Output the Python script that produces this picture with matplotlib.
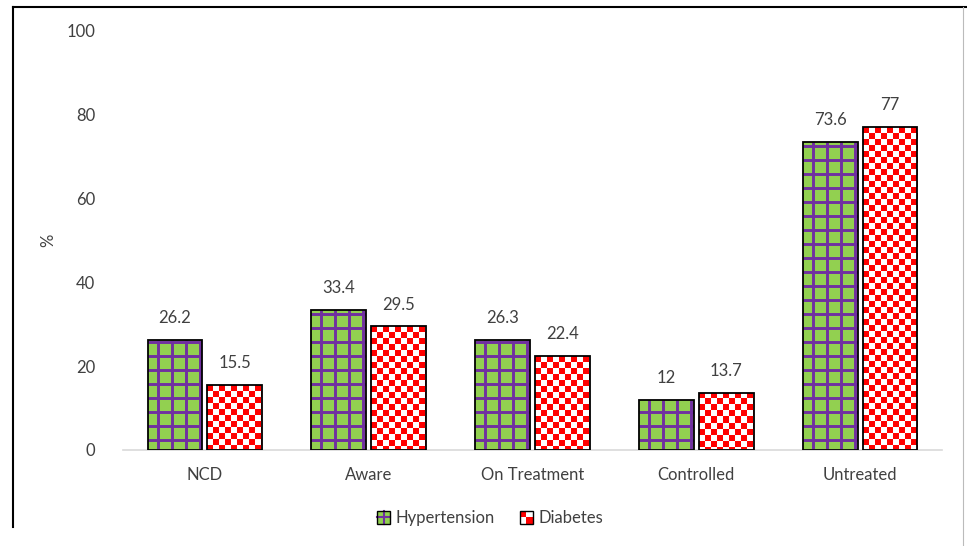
import matplotlib
matplotlib.use('Agg')
import matplotlib.pyplot as plt
import numpy as np
from matplotlib.patches import Rectangle
from matplotlib.lines import Line2D
from matplotlib.legend_handler import HandlerBase

categories = ['NCD', 'Aware', 'On Treatment', 'Controlled', 'Untreated']
hypertension = [26.2, 33.4, 26.3, 12, 73.6]
diabetes = [15.5, 29.5, 22.4, 13.7, 77]
labels_ht = ['26.2', '33.4', '26.3', '12', '73.6']
labels_db = ['15.5', '29.5', '22.4', '13.7', '77']

GREEN = '#92D050'
PURPLE = '#7030A0'
RED = '#FF0000'
TEXT = '#404040'

plt.rcParams['font.family'] = ['Lato', 'DejaVu Sans']


def grid_lines(ax, bars, step_px=14, offset_px=10):
    # purple grid drawn as real lines, clipped to each bar
    inv = ax.transData.inverted()
    for rect in bars:
        bb = rect.get_window_extent()
        xs_px = np.arange(bb.x0 + offset_px, bb.x1, step_px)
        ys_px = np.arange(bb.y0 + offset_px, bb.y1, step_px)
        xs = inv.transform(np.column_stack([xs_px, np.full_like(xs_px, bb.y0)]))[:, 0]
        ys = inv.transform(np.column_stack([np.full_like(ys_px, bb.x0), ys_px]))[:, 1]
        x0, x1 = rect.get_x(), rect.get_x() + rect.get_width()
        y0, y1 = rect.get_y(), rect.get_y() + rect.get_height()
        vl = ax.vlines(xs, y0, y1, colors=PURPLE, linewidth=2.1, zorder=2)
        hl = ax.hlines(ys, x0, x1, colors=PURPLE, linewidth=2.1, zorder=2)
        vl.set_clip_path(rect)
        hl.set_clip_path(rect)


def checker_fill(ax, bars, cell_px=6):
    for rect in bars:
        bb = rect.get_window_extent()
        w_px = max(int(round(bb.width)), 1)
        h_px = max(int(round(bb.height)), 1)
        jj, ii = np.meshgrid(np.arange(w_px), np.arange(h_px))
        img = np.ones((h_px, w_px, 3))
        img[((ii // cell_px) + (jj // cell_px)) % 2 == 0] = matplotlib.colors.to_rgb(RED)
        x0, y0 = rect.get_x(), rect.get_y()
        im = ax.imshow(img, extent=(x0, x0 + rect.get_width(), y0, y0 + rect.get_height()),
                       origin='upper', interpolation='nearest', aspect='auto', zorder=2)
        im.set_clip_path(rect)


class PatternHandler(HandlerBase):
    def __init__(self, kind):
        super().__init__()
        self.kind = kind

    def create_artists(self, legend, orig_handle, xdescent, ydescent, width, height, fontsize, trans):
        s = min(width, height)
        x0 = -xdescent + (width - s) / 2
        y0 = -ydescent + (height - s) / 2
        arts = []
        if self.kind == 'grid':
            arts.append(Rectangle((x0, y0), s, s, facecolor=GREEN, edgecolor='none', transform=trans))
            arts.append(Line2D([x0 + s / 2] * 2, [y0, y0 + s], color=PURPLE, lw=1.5, transform=trans))
            arts.append(Line2D([x0, x0 + s], [y0 + s / 2] * 2, color=PURPLE, lw=1.5, transform=trans))
        else:
            arts.append(Rectangle((x0, y0), s, s, facecolor='white', edgecolor='none', transform=trans))
            arts.append(Rectangle((x0, y0 + s / 2), s / 2, s / 2, facecolor=RED, edgecolor='none', transform=trans))
            arts.append(Rectangle((x0 + s / 2, y0), s / 2, s / 2, facecolor=RED, edgecolor='none', transform=trans))
        arts.append(Rectangle((x0, y0), s, s, facecolor='none', edgecolor='black', lw=1.0, transform=trans))
        return arts


fig = plt.figure(figsize=(9.67, 5.46), dpi=100)
ax = fig.add_axes([123 / 967, 1 - 450 / 546, (942 - 123) / 967, (450 - 31) / 546])

x = np.arange(len(categories))
width = 0.335
gap = 0.015
ax.set_xlim(-0.5, len(categories) - 0.5)
ax.set_ylim(0, 100)

# green base, then outline on top
ax.bar(x - width / 2 - gap, hypertension, width, color=GREEN, linewidth=0, zorder=1)
ht_bars = ax.bar(x - width / 2 - gap, hypertension, width, facecolor='none',
                 edgecolor='black', linewidth=1.3, zorder=3, label='Hypertension')
db_bars = ax.bar(x + width / 2 + gap, diabetes, width, facecolor='none',
                 edgecolor='black', linewidth=1.3, zorder=3, label='Diabetes')

grid_lines(ax, ht_bars)
checker_fill(ax, db_bars)
ax.set_xlim(-0.5, len(categories) - 0.5)
ax.set_ylim(0, 100)

for bars, labels in [(ht_bars, labels_ht), (db_bars, labels_db)]:
    for rect, lab in zip(bars, labels):
        ax.annotate(lab, xy=(rect.get_x() + rect.get_width() / 2, rect.get_height()),
                    xytext=(0, 10), textcoords='offset points',
                    ha='center', va='bottom', fontsize=12, color=TEXT)

ax.set_xticks(x)
ax.set_xticklabels(categories)
ax.set_yticks([0, 20, 40, 60, 80, 100])
ax.tick_params(axis='both', length=0, labelsize=12, labelcolor=TEXT)
ax.tick_params(axis='y', pad=20)
ax.tick_params(axis='x', pad=12)
ax.set_ylabel('%', fontsize=12, color=TEXT)
ax.yaxis.set_label_coords(-0.082, 0.5)

for side in ['top', 'right', 'left']:
    ax.spines[side].set_visible(False)
ax.spines['bottom'].set_color('#D9D9D9')
ax.spines['bottom'].set_linewidth(1.2)

fig.legend([ht_bars, db_bars], ['Hypertension', 'Diabetes'],
           handler_map={ht_bars: PatternHandler('grid'), db_bars: PatternHandler('checker')},
           loc='center', bbox_to_anchor=(490 / 967, 1 - 518 / 546), ncol=2, frameon=False,
           fontsize=12, labelcolor=TEXT, handlelength=0.8, handleheight=0.8,
           handletextpad=0.3, columnspacing=1.5)

# outer frame
fig.add_artist(Line2D([13 / 967, 13 / 967], [1 - 7 / 546, 1 - 527 / 546], color='black', lw=1.5,
                      transform=fig.transFigure))
fig.add_artist(Line2D([13 / 967, 1], [1 - 7 / 546, 1 - 7 / 546], color='black', lw=1.5,
                      transform=fig.transFigure))
fig.add_artist(Line2D([963 / 967, 963 / 967], [1 - 7 / 546, 0], color='#BBBBBB', lw=0.8,
                      transform=fig.transFigure))

fig.savefig('out.png', dpi=100)
